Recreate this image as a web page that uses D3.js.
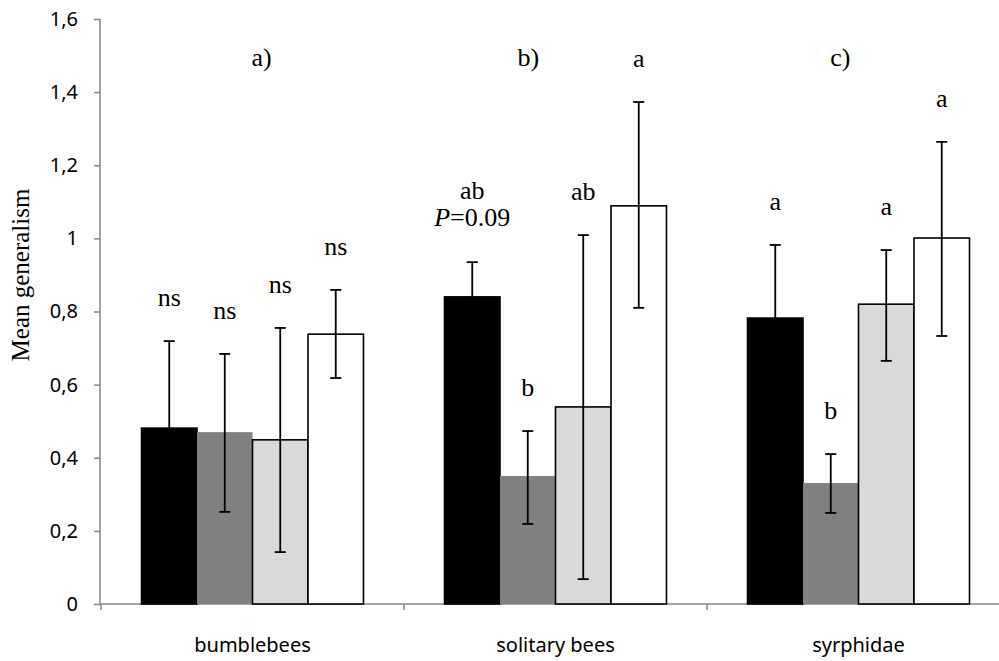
<!DOCTYPE html>
<html lang="en">
<head>
<meta charset="UTF-8">
<title>Mean generalism</title>
<script src="https://cdn.jsdelivr.net/npm/d3@7"></script>
<style>
  body { margin: 0; background: white; }
  svg { display: block; }
</style>
</head>
<body>
<script>
// data
var groups = ["bumblebees", "solitary bees", "syrphidae"];
var series = ["s1", "s2", "s3", "s4"];
var fills = ["#000000", "#808080", "#d9d9d9", "#ffffff"];
var means = [
  [0.481, 0.470, 0.449, 0.738],
  [0.840, 0.350, 0.539, 1.089],
  [0.782, 0.331, 0.820, 1.001]
];
var upper = [
  [0.719, 0.684, 0.755, 0.859],
  [0.935, 0.473, 1.009, 1.373],
  [0.982, 0.410, 0.968, 1.264]
];
var lower = [
  [0.243, 0.252, 0.142, 0.618],
  [0.745, 0.219, 0.068, 0.810],
  [0.582, 0.249, 0.665, 0.733]
];
var letters = [
  ["ns", "ns", "ns", "ns"],
  ["ab", "b", "ab", "a"],
  ["a", "b", "a", "a"]
];
var panels = ["a)", "b)", "c)"];
var yTicks = [0, 0.2, 0.4, 0.6, 0.8, 1, 1.2, 1.4, 1.6];

var W = 999, H = 661;
var svg = d3.select("body").append("svg").attr("width", W).attr("height", H);

var y = d3.scaleLinear().domain([0, 1.6]).range([604, 19]);
var x0 = d3.scaleBand().domain(groups).range([101, 1010]).paddingInner(0).paddingOuter(0);
var x1 = d3.scaleBand().domain(series).range([0, x0.bandwidth()]).paddingInner(0).paddingOuter(0.73);

var axisCol = "#868686";
var serif = "Liberation Serif";

// y axis
var yAxis = svg.append("g").attr("transform", "translate(100,0)")
  .call(d3.axisLeft(y).tickValues(yTicks).tickSize(6).tickPadding(16)
    .tickFormat(function(d){ return String(d).replace(".", ","); }));
yAxis.select(".domain").attr("stroke", axisCol).attr("stroke-width", 1.5).attr("d", "M0," + y(1.6) + "V" + y(0));
yAxis.selectAll(".tick line").attr("stroke", axisCol).attr("stroke-width", 1.5);
yAxis.selectAll(".tick text").attr("font-family", "Noto Sans").attr("font-size", 20).attr("fill", "#000");

// x axis
var xg = svg.append("g").attr("transform", "translate(0,604)");
xg.append("line").attr("x1", 100).attr("x2", W).attr("stroke", axisCol).attr("stroke-width", 1.5);
xg.selectAll("line.tk").data(groups.concat(["end"])).enter().append("line").attr("class", "tk")
  .attr("x1", function(d, i){ return i < groups.length ? x0(d) : x0.range()[1]; })
  .attr("x2", function(d, i){ return i < groups.length ? x0(d) : x0.range()[1]; })
  .attr("y1", 0).attr("y2", 6).attr("stroke", axisCol).attr("stroke-width", 1.5);
xg.selectAll("text").data(groups).enter().append("text")
  .attr("x", function(d){ return x0(d) + x0.bandwidth() / 2; })
  .attr("y", 48).attr("text-anchor", "middle")
  .attr("font-family", "Noto Sans").attr("font-size", 20)
  .text(function(d){ return d; });

// bars
var gs = svg.selectAll("g.grp").data(groups).enter().append("g").attr("class", "grp")
  .attr("transform", function(d){ return "translate(" + x0(d) + ",0)"; });

gs.each(function(g, gi){
  var sel = d3.select(this);
  series.forEach(function(s, si){
    var bx = x1(s), bw = x1.bandwidth(), cx = bx + bw / 2;
    sel.append("rect")
      .attr("x", bx).attr("width", bw)
      .attr("y", y(means[gi][si])).attr("height", y(0) - y(means[gi][si]))
      .attr("fill", fills[si])
      .attr("stroke", si === 1 ? "none" : "#000").attr("stroke-width", 1.6);
    // error bar
    sel.append("line").attr("x1", cx).attr("x2", cx)
      .attr("y1", y(upper[gi][si])).attr("y2", y(lower[gi][si]))
      .attr("stroke", "#000").attr("stroke-width", 1.8);
    [upper[gi][si], lower[gi][si]].forEach(function(v){
      sel.append("line").attr("x1", cx - 5.5).attr("x2", cx + 5.5)
        .attr("y1", y(v)).attr("y2", y(v)).attr("stroke", "#000").attr("stroke-width", 1.8);
    });
    // letter
    var ty = y(upper[gi][si]) - 35;
    if (gi === 1 && si === 0) {
      var t = sel.append("text").attr("x", cx).attr("y", ty - 1).attr("text-anchor", "middle")
        .attr("font-family", serif).attr("font-size", 26);
      t.append("tspan").attr("font-style", "italic").text("P");
      t.append("tspan").text("=0.09");
      ty = ty - 28;
    }
    sel.append("text").attr("x", cx).attr("y", ty).attr("text-anchor", "middle")
      .attr("font-family", serif).attr("font-size", 26)
      .text(letters[gi][si]);
  });
});

// panel labels
var panelPos = [0.53, 0.41, 0.44];
svg.selectAll("text.panel").data(panels).enter().append("text").attr("class", "panel")
  .attr("x", function(d, i){ return x0(groups[i]) + x0.bandwidth() * panelPos[i]; })
  .attr("y", 66).attr("text-anchor", "middle")
  .attr("font-family", serif).attr("font-size", 26)
  .text(function(d){ return d; });

// y title
svg.append("text").attr("transform", "translate(29,275) rotate(-90)")
  .attr("text-anchor", "middle").attr("font-family", serif).attr("font-size", 25)
  .text("Mean generalism");
</script>
</body>
</html>
